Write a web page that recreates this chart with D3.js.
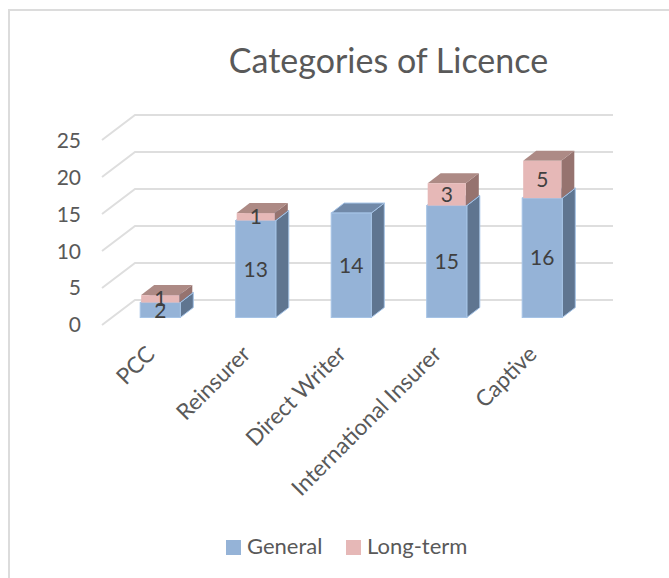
<!DOCTYPE html>
<html lang="en">
  <head>
    <meta charset="utf-8">
    <script src="https://d3js.org/d3.v7.min.js"></script>
    <style>
      html, body { margin: 0; padding: 0; background: #fff; }
      svg { display: block; font-family: Lato, "Noto Sans", sans-serif; }
      text { fill: #595959; }
    </style>
  </head>
  <body>
    <svg width="669" height="578"></svg>
    <script>
      // chart values
      var categories = ["PCC", "Reinsurer", "Direct Writer", "International Insurer", "Captive"];
      var general = [2, 13, 14, 15, 16];
      var longTerm = [1, 1, 0, 3, 5];
      var seriesNames = ["General", "Long-term"];
      var yTicks = [0, 5, 10, 15, 20, 25];

      var svg = d3.select("svg");

      // face colours for each series
      var faces = {
        "General": { front: "#95b3d7", side: "#5f7590", top: "#7189a8", edge: "#a5c3e6" },
        "Long-term": { front: "#e6b8b7", side: "#96736f", top: "#ad8a85", edge: "#e6b8b7" }
      };

      var rows = categories.map(function (c, i) {
        return { name: c, "General": general[i], "Long-term": longTerm[i] };
      });
      var stacked = d3.stack().keys(seriesNames)(rows);

      // scales for the front plane of the bars
      var xScale = d3.scaleBand().domain(categories).range([112.5, 590]).paddingInner(0.58).paddingOuter(0.29);
      var yScale = d3.scaleLinear().domain([0, 25]).range([317.5, 131]);
      // back wall of the 3d box and the labels at its front edge
      var wallScale = d3.scaleLinear().domain([0, 25]).range([300, 115]);
      var labelScale = d3.scaleLinear().domain([0, 25]).range([325, 141]);

      var wallDx = 33, wallDy = 25;   // floor depth
      var barDx = 13, barDy = 10;     // bar depth

      // outer frame, only top and left are visible
      svg.append("path")
        .attr("d", "M9,578V10H669")
        .style("fill", "none")
        .style("stroke", "#dcdcdc")
        .style("stroke-width", 2);

      // title
      svg.append("text")
        .attr("x", 388.5)
        .attr("y", 73)
        .attr("text-anchor", "middle")
        .style("font-size", "34px")
        .text("Categories of Licence");

      // gridlines on the wall and side wall
      var grid = svg.append("g");
      grid.selectAll("path")
        .data(yTicks)
        .enter()
        .append("path")
        .attr("d", function (d) {
          var y = wallScale(d);
          return "M" + (135 - wallDx) + "," + (y + wallDy) + "L135," + y + "H613";
        })
        .style("fill", "none")
        .style("stroke", "#dedede")
        .style("stroke-width", 2);

      // y axis, labels only
      var yAxis = svg.append("g")
        .attr("transform", "translate(81,0)")
        .call(d3.axisLeft(labelScale).tickValues(yTicks).tickSize(0).tickPadding(0));
      yAxis.select(".domain").remove();
      yAxis.selectAll("text")
        .style("font-size", "21px")
        .style("font-family", "Lato, 'Noto Sans', sans-serif")
        .style("fill", "#595959");

      // bars
      var bars = svg.append("g");
      stacked.forEach(function (layer, s) {
        var key = layer.key;
        var inset = s === 0 ? 0 : 1;
        var segs = bars.selectAll("g.seg-" + s)
          .data(layer.map(function (d, i) {
            return { y0: d[0], y1: d[1], name: categories[i], idx: i };
          }).filter(function (d) { return d.y1 > d.y0; }))
          .enter()
          .append("g");

        // right face
        segs.append("path")
          .attr("d", function (d) {
            var r = xScale(d.name) + xScale.bandwidth() - inset;
            return "M" + r + "," + yScale(d.y0) +
              "l" + barDx + "," + (-barDy) +
              "V" + (yScale(d.y1) - barDy) +
              "L" + r + "," + yScale(d.y1) + "Z";
          })
          .style("fill", faces[key].side)
          .style("stroke", faces[key].edge)
          .style("stroke-width", inset ? 0 : 1);

        // top face
        segs.append("path")
          .attr("d", function (d) {
            var l = xScale(d.name) + inset;
            var w = xScale.bandwidth() - 2 * inset;
            return "M" + l + "," + yScale(d.y1) +
              "l" + barDx + "," + (-barDy) +
              "h" + w +
              "l" + (-barDx) + "," + barDy + "Z";
          })
          .style("fill", faces[key].top)
          .style("stroke", faces[key].edge)
          .style("stroke-width", inset ? 0 : 1);

        // front face
        segs.append("rect")
          .attr("x", function (d) { return xScale(d.name) + inset; })
          .attr("y", function (d) { return yScale(d.y1); })
          .attr("width", xScale.bandwidth() - 2 * inset)
          .attr("height", function (d) { return yScale(d.y0) - yScale(d.y1); })
          .style("fill", faces[key].front)
          .style("stroke", faces[key].edge)
          .style("stroke-width", inset ? 0 : 1);
      });

      // value labels go on top of all the bars
      stacked.forEach(function (layer) {
        layer.forEach(function (d, i) {
          if (d[1] <= d[0]) return;
          svg.append("text")
            .attr("x", xScale(categories[i]) + xScale.bandwidth() / 2)
            .attr("y", (yScale(d[0]) + yScale(d[1])) / 2 + 7.5)
            .attr("text-anchor", "middle")
            .style("font-size", "21px")
            .style("fill", "#404040")
            .text(d[1] - d[0]);
        });
      });

      // category labels, rotated
      svg.append("g")
        .selectAll("text")
        .data(categories)
        .enter()
        .append("text")
        .attr("text-anchor", "end")
        .attr("transform", function (d) {
          return "translate(" + (xScale(d) + xScale.bandwidth() / 2 - 4) + ",355.5)rotate(-45)";
        })
        .style("font-size", "22.5px")
        .text(function (d) { return d; });

      // legend
      var legendX = [226, 346];
      var legend = svg.append("g");
      seriesNames.forEach(function (name, i) {
        legend.append("rect")
          .attr("x", legendX[i])
          .attr("y", 540)
          .attr("width", 15)
          .attr("height", 15)
          .style("fill", faces[name].front);
        legend.append("text")
          .attr("x", legendX[i] + 21)
          .attr("y", 554)
          .style("font-size", "22px")
          .text(name);
      });
    </script>
  </body>
</html>
